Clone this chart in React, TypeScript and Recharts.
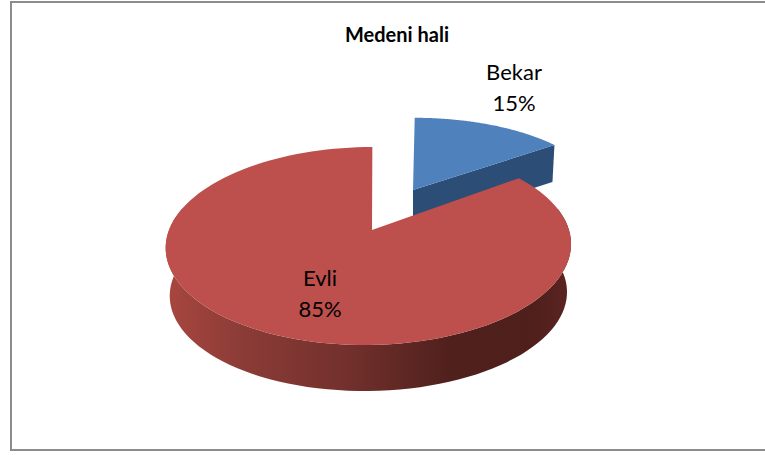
import React from 'react';
import { PieChart, Pie } from 'recharts';

const categories = ['Bekar', 'Evli'];
const shares = [15, 85];
const data = categories.map((name, i) => ({ name, value: shares[i] }));

const PIE_CX = 372;
const PIE_CY = 230;
const PIE_R = 200;

// perspective of the tilted disc
const TILT = 0.482;
const PERSP = 0.1616;

const toRad = (deg: number) => (deg * Math.PI) / 180;

// recharts angle -> point on the rim of the disc, relative to the apex
const rim = (angle: number, r: number) => {
  const u = Math.cos(toRad(angle));
  const v = Math.sin(toRad(angle));
  const w = 1 + PERSP * v;
  return { x: (r * u) / w, y: (-r * TILT * v) / w, v, w };
};

const Slice = (props: any) => {
  const { cx, cy, outerRadius: r, startAngle, endAngle, index } = props;
  const a0 = Math.max(startAngle, endAngle);
  const a1 = Math.min(startAngle, endAngle);
  const steps = 120;
  const angles: number[] = [];
  for (let i = 0; i <= steps; i++) angles.push(a0 + ((a1 - a0) * i) / steps);

  if (index === 0) {
    // pulled out slice
    const ox = cx + 41;
    const oy = cy - 40;
    const pts = angles.map((a) => {
      const p = rim(a, r);
      return `${ox + p.x * 0.95 - 2 * p.y / (r * TILT)},${oy + p.y * 0.87}`;
    });
    const end = rim(a1, r);
    const ex = ox + end.x * 0.95 - (2 * end.y) / (r * TILT);
    const ey = oy + end.y * 0.87;
    return (
      <g>
        <polygon points={`${ox},${oy} ${ex},${ey} ${ex - 2},${ey + 37} ${ox},${oy + 37}`} fill="#2c4d75" />
        <polygon points={`${ox},${oy} ${pts.join(' ')}`} fill="#4f81bd" />
      </g>
    );
  }

  const top = (a: number) => {
    const p = rim(a, r);
    return { x: cx - 3 + p.x + (3.9 * p.v) / p.w, y: cy + p.y };
  };
  const bottom = (a: number) => {
    const p = top(a);
    return { x: 369 + (p.x - 369) * 0.98, y: 246 + (p.y - 246) * 0.98 + 48 };
  };
  const front = angles.filter((a) => Math.sin(toRad(a)) < 0.25);
  const upper = front.map((a) => {
    const p = top(a);
    return `${p.x},${p.y}`;
  });
  const lower = [...front].reverse().map((a) => {
    const p = bottom(a);
    return `${p.x},${p.y}`;
  });
  const face = angles.map((a) => {
    const p = top(a);
    return `${p.x},${p.y}`;
  });
  return (
    <g>
      <defs>
        <linearGradient id="wallRed" gradientUnits="userSpaceOnUse" x1={166} y1={0} x2={572} y2={0}>
          <stop offset="0" stopColor="#a8463f" />
          <stop offset="0.2" stopColor="#8a3b36" />
          <stop offset="0.45" stopColor="#72302c" />
          <stop offset="0.7" stopColor="#50201d" />
          <stop offset="0.9" stopColor="#4f1f1c" />
          <stop offset="1" stopColor="#5c2421" />
        </linearGradient>
      </defs>
      <polygon points={`${upper.join(' ')} ${lower.join(' ')}`} fill="url(#wallRed)" />
      <polygon points={`${cx},${cy} ${face.join(' ')}`} fill="#bd4f4c" />
    </g>
  );
};

const labelSpots = [
  { x: 514, y: 80 },
  { x: 320, y: 286 },
];

const SliceLabel = (props: any) => {
  const { index, name, value } = props;
  const spot = labelSpots[index];
  return (
    <text textAnchor="middle" fontFamily="Lato, sans-serif" fontSize={22} fill="#000">
      <tspan x={spot.x} y={spot.y}>{name}</tspan>
      <tspan x={spot.x} y={spot.y + 31}>{value}%</tspan>
    </text>
  );
};

export default function App() {
  return (
    <div style={{ position: 'absolute', left: 0, top: 0, width: 765, height: 455, background: '#fff' }}>
      <div
        style={{
          position: 'absolute',
          left: 10,
          top: 1,
          width: 765 - 10,
          height: 450,
          boxSizing: 'border-box',
          border: '2px solid #8c8c8c',
          borderRight: 'none',
        }}
      />
      <div
        style={{
          position: 'absolute',
          left: 10,
          width: 755,
          top: 25,
          textAlign: 'center',
          paddingLeft: 0,
        }}
      />
      <PieChart width={765} height={455} margin={{ top: 0, right: 0, bottom: 0, left: 0 }} style={{ position: 'absolute', left: 0, top: 0 }}>
        <text x={397} y={42} textAnchor="middle" fontFamily="Lato, sans-serif" fontWeight={700} fontSize={20} fill="#000">
          Medeni hali
        </text>
        <Pie
          data={data}
          dataKey="value"
          nameKey="name"
          cx={PIE_CX}
          cy={PIE_CY}
          innerRadius={0}
          outerRadius={PIE_R}
          startAngle={90}
          endAngle={-270}
          stroke="none"
          labelLine={false}
          label={SliceLabel}
          shape={Slice}
          isAnimationActive={false}
        />
      </PieChart>
    </div>
  );
}
